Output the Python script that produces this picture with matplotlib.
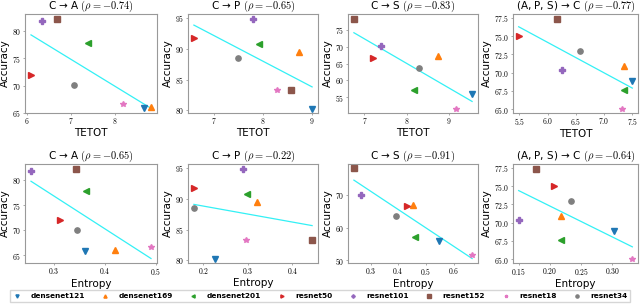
import numpy as np
import matplotlib
matplotlib.use('Agg')
import matplotlib.pyplot as plt
from matplotlib.ticker import FuncFormatter

plt.rcParams['mathtext.fontset'] = 'cm'
plt.rcParams['font.family'] = ['DejaVu Sans']

# models and their marker / colour
models = ['densenet121', 'densenet169', 'densenet201', 'resnet50',
          'resnet101', 'resnet152', 'resnet18', 'resnet34']
markers = ['v', '^', '<', '>', 'P', 's', '*', 'o']
colors = ['#1f77b4', '#ff7f0e', '#2ca02c', '#d62728',
          '#9467bd', '#8c564b', '#e377c2', '#7f7f7f']

# accuracy per task
acc_CA = [65.8, 66.0, 77.8, 72.0, 81.9, 82.3, 66.6, 70.1]
acc_CP = [80.3, 89.5, 90.7, 91.7, 94.9, 83.3, 83.3, 88.5]
acc_CS = [56.0, 67.1, 57.2, 66.7, 70.2, 78.3, 51.7, 63.6]
acc_APSC = [68.8, 70.9, 67.6, 75.0, 70.4, 77.4, 65.1, 72.9]

# TETOT per task
tetot_CA = [8.66, 8.82, 7.40, 6.10, 6.34, 6.70, 8.18, 7.08]
tetot_CP = [9.01, 8.75, 7.91, 6.58, 7.79, 8.58, 8.28, 7.48]
tetot_CS = [9.55, 8.75, 8.18, 7.20, 7.40, 6.75, 9.17, 8.30]
tetot_APSC = [7.50, 7.35, 7.35, 5.49, 6.25, 6.17, 7.32, 6.58]

# entropy per task
ent_CA = [0.362, 0.419, 0.364, 0.313, 0.256, 0.344, 0.490, 0.346]
ent_CP = [0.227, 0.321, 0.299, 0.179, 0.290, 0.444, 0.296, 0.179]
ent_CS = [0.547, 0.455, 0.461, 0.431, 0.265, 0.240, 0.667, 0.391]
ent_APSC = [0.303, 0.217, 0.217, 0.207, 0.150, 0.178, 0.332, 0.234]

# titles
task_names = ['C → A', 'C → P', 'C → S', '(A, P, S) → C']
rho_tetot = ['-0.74', '-0.65', '-0.83', '-0.77']
bold_tetot = [True, False, False, True]
rho_ent = ['-0.65', '-0.22', '-0.91', '-0.64']
bold_ent = [False, False, True, False]

# ticks
xt_tetot = [[6, 7, 8], [7, 8, 9], [7, 8, 9], [5.5, 6.0, 6.5, 7.0, 7.5]]
xt_ent = [[0.3, 0.4, 0.5], [0.2, 0.3, 0.4], [0.3, 0.4, 0.5, 0.6], [0.15, 0.20, 0.25, 0.30]]
yt = [[65, 70, 75, 80], [80, 85, 90, 95], [55, 60, 65, 70, 75], [65.0, 67.5, 70.0, 72.5, 75.0, 77.5]]
yt_bottom = [[65, 70, 75, 80], [80, 85, 90, 95], [50, 60, 70], [65.0, 67.5, 70.0, 72.5, 75.0, 77.5]]
xfmt_tetot = ['%d', '%d', '%d', '%.1f']
xfmt_ent = ['%.1f', '%.1f', '%.1f', '%.2f']
yfmt = ['%d', '%d', '%d', '%.1f']

accs = [acc_CA, acc_CP, acc_CS, acc_APSC]
tetots = [tetot_CA, tetot_CP, tetot_CS, tetot_APSC]
ents = [ent_CA, ent_CP, ent_CS, ent_APSC]

W, H = 640, 305
fig = plt.figure(figsize=(6.4, 3.05), dpi=100)

lefts = [25, 188, 348, 513]
widths = [132, 130, 130, 125]
rows = [(14, 113), (164, 263)]


def mathfmt(f):
    return FuncFormatter(lambda v, p: '$' + (f % v) + '$')


def panel(ax, x, y, title, rho, bold, xlabel, xt, yticks, xf, yf):
    for i in range(len(models)):
        ax.plot(x[i], y[i], linestyle='none', marker=markers[i], color=colors[i],
                markersize=3.8, label=models[i])
    k, b = np.polyfit(x, y, 1)
    xs = np.array([min(x), max(x)])
    ax.plot(xs, k * xs + b, color='#33f0f5', lw=0.9, zorder=1)
    if bold:
        r = r'$(\rho = \mathbf{' + rho + '})$'
    else:
        r = r'$(\rho = ' + rho + ')$'
    ax.set_title(title + ' ' + r, fontsize=7.5, pad=1.5)
    ax.set_xlabel(xlabel, fontsize=7.5, labelpad=1)
    ax.set_ylabel('Accuracy', fontsize=7.5, labelpad=1.5)
    ax.set_xticks(xt)
    ax.set_yticks(yticks)
    ax.xaxis.set_major_formatter(mathfmt(xf))
    ax.yaxis.set_major_formatter(mathfmt(yf))
    ax.tick_params(labelsize=5.5, length=1.5, width=0.5, pad=1, color='#888888')
    for s in ax.spines.values():
        s.set_color('#999999')
        s.set_linewidth(0.8)
    ax.margins(0.05)


for c in range(4):
    for r_i, (top, bot) in enumerate(rows):
        ax = fig.add_axes([lefts[c] / W, 1 - bot / H, widths[c] / W, (bot - top) / H])
        if r_i == 0:
            panel(ax, tetots[c], accs[c], task_names[c], rho_tetot[c], bold_tetot[c],
                  'TETOT', xt_tetot[c], yt[c], xfmt_tetot[c], yfmt[c])
            if c == 0:
                handles, labels = ax.get_legend_handles_labels()
        else:
            panel(ax, ents[c], accs[c], task_names[c], rho_ent[c], bold_ent[c],
                  'Entropy', xt_ent[c], yt_bottom[c], xfmt_ent[c], yfmt[c])

leg = fig.legend(handles, labels, loc='center', bbox_to_anchor=(0.5, 1 - 296 / H),
                 ncol=8, markerscale=0.6, columnspacing=2.2,
                 handletextpad=1.2, handlelength=1.2, borderpad=0.4,
                 frameon=True, edgecolor='#cccccc', fancybox=False,
                 prop={'weight': 'bold', 'size': 5.3})

fig.savefig('out.png', dpi=100)
